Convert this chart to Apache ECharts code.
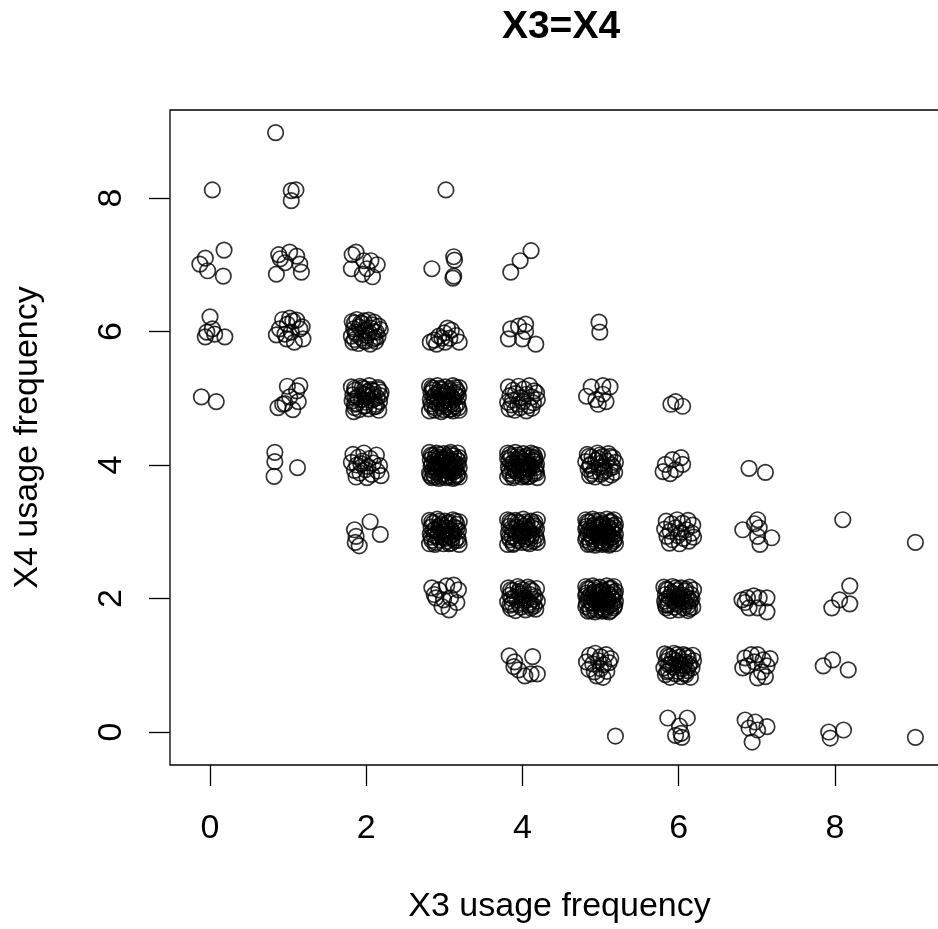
<!DOCTYPE html>
<html>
<head>
<meta charset="utf-8">
<title>X3=X4</title>
<script src="https://cdn.jsdelivr.net/npm/echarts@6/dist/echarts.min.js"></script>
<style>
  html, body { margin: 0; padding: 0; background: #fff; }
  #chart { width: 938px; height: 929px; }
</style>
</head>
<body>
<div id="chart"></div>
<script>
// Jittered (X3, X4) usage-frequency pairs, grouped by the integer X3 value.
const col0 = [
  [0.03, 8.12],
  [-0.13, 7.01], [-0.06, 7.10], [-0.03, 6.91], [0.18, 7.22], [0.17, 6.83],
  [0.00, 6.22], [-0.04, 5.99], [0.03, 6.04], [0.06, 5.96], [-0.06, 5.92], [0.19, 5.92],
  [-0.11, 5.02], [0.08, 4.95]
];
const col1 = [
  [0.84, 8.98],
  [1.04, 8.11], [1.10, 8.12], [1.04, 7.96],
  [0.88, 7.15], [0.90, 7.09], [1.02, 7.19], [1.11, 7.13], [1.15, 7.01], [0.85, 6.86], [1.17, 6.89], [0.96, 7.03],
  [0.93, 6.18], [1.02, 6.20], [1.11, 6.17], [1.18, 6.07], [0.96, 5.96], [1.04, 5.99], [1.15, 6.04],
  [0.98, 5.89], [1.08, 5.84], [1.19, 5.89], [0.89, 6.04], [0.99, 6.11], [0.85, 5.95], [1.06, 6.16],
  [0.93, 4.91], [1.02, 5.02], [1.11, 5.11], [1.15, 5.19], [0.99, 5.18], [0.87, 4.86], [1.06, 4.83],
  [0.96, 4.92], [1.13, 4.95],
  [0.83, 4.19], [0.83, 4.05], [0.82, 3.83], [1.12, 3.96]
];
const col2 = [
  [1.82, 7.15], [1.87, 7.19], [1.97, 7.06], [2.06, 7.06], [2.14, 7.00], [1.81, 6.94], [1.95, 6.86],
  [2.08, 6.82], [2.01, 6.94],
  [1.82, 6.15], [1.88, 6.18], [1.95, 6.12], [2.03, 6.17], [2.10, 6.14], [2.16, 6.08], [1.84, 6.04],
  [1.91, 6.07], [1.99, 6.02], [2.06, 6.05], [2.13, 5.99], [2.18, 6.03], [1.81, 5.93], [1.87, 5.96],
  [1.94, 5.90], [2.01, 5.94], [2.08, 5.88], [2.15, 5.92], [1.83, 5.84], [1.90, 5.82], [1.97, 5.86],
  [2.05, 5.81], [2.12, 5.85], [1.93, 6.13], [2.04, 5.98],
  [1.85, 6.13], [1.97, 6.16], [2.08, 6.10], [1.86, 5.99], [2.10, 6.00], [1.85, 5.88], [1.99, 5.85],
  [2.11, 5.90],
  [1.81, 5.17], [1.86, 5.12], [1.92, 5.18], [1.98, 5.14], [2.04, 5.19], [2.09, 5.11], [2.15, 5.16],
  [2.19, 5.09], [1.83, 5.05], [1.89, 5.02], [1.96, 5.07], [2.02, 5.03], [2.08, 5.06], [2.14, 5.01],
  [2.18, 5.04], [1.82, 4.96], [1.88, 4.92], [1.94, 4.98], [2.00, 4.94], [2.06, 4.97], [2.12, 4.91],
  [2.17, 4.95], [1.85, 4.86], [1.91, 4.83], [1.97, 4.88], [2.03, 4.84], [2.10, 4.87], [2.16, 4.82],
  [1.84, 4.80], [2.01, 5.10],
  [1.85, 5.15], [1.95, 5.16], [2.06, 5.13], [2.16, 5.13], [1.86, 5.00], [1.98, 5.05], [2.10, 4.99],
  [1.85, 4.91], [1.99, 4.89], [2.13, 4.88],
  [1.83, 4.16], [1.90, 4.12], [1.97, 4.18], [2.05, 4.10], [2.13, 4.15], [1.81, 4.04], [1.88, 4.00],
  [1.95, 4.06], [2.02, 3.98], [2.09, 4.03], [2.17, 3.99], [1.85, 3.92], [1.92, 3.88], [1.99, 3.93],
  [2.07, 3.86], [2.14, 3.91], [2.19, 3.84], [1.87, 3.82], [2.01, 3.81], [1.93, 4.02],
  [1.85, 3.03], [1.87, 2.93], [1.91, 2.79], [2.05, 3.15], [2.18, 2.96], [1.86, 2.84]
];
const col3 = [
  [3.02, 8.12],
  [2.84, 6.94], [3.12, 7.12], [3.13, 7.07], [3.12, 6.83], [3.11, 6.80],
  [2.87, 5.87], [2.93, 5.93], [3.00, 5.98], [3.04, 6.05], [3.09, 6.02], [3.15, 5.94], [2.90, 5.81],
  [3.01, 5.84], [3.19, 5.84], [2.82, 5.84], [2.97, 5.90], [3.07, 5.90],
  [2.81, 5.18], [2.86, 5.15], [2.91, 5.19], [2.96, 5.13], [3.01, 5.17], [3.06, 5.14], [3.11, 5.19],
  [3.16, 5.12], [3.19, 5.16], [2.83, 5.08], [2.88, 5.05], [2.93, 5.09], [2.98, 5.03], [3.03, 5.07],
  [3.08, 5.04], [3.13, 5.08], [3.18, 5.02], [2.82, 4.98], [2.87, 4.95], [2.92, 4.99], [2.97, 4.93],
  [3.02, 4.97], [3.07, 4.94], [3.12, 4.98], [3.17, 4.92], [2.84, 4.88], [2.89, 4.85], [2.94, 4.89],
  [2.99, 4.83], [3.04, 4.87], [3.09, 4.84], [3.14, 4.88], [3.19, 4.82], [2.81, 4.81], [2.96, 4.80],
  [3.11, 4.81], [2.85, 5.12], [3.05, 5.00], [3.15, 5.05],
  [2.84, 5.16], [2.94, 5.15], [3.04, 5.11], [3.14, 5.16], [2.86, 5.02], [2.96, 5.05], [3.10, 5.01],
  [3.17, 5.09], [2.83, 4.92], [2.91, 4.93], [3.00, 4.90], [3.09, 4.91], [3.18, 4.86], [2.88, 4.82],
  [3.06, 4.83],
  [2.81, 4.19], [2.85, 4.14], [2.90, 4.18], [2.94, 4.12], [2.99, 4.17], [3.03, 4.13], [3.08, 4.19],
  [3.12, 4.14], [3.17, 4.18], [3.19, 4.11], [2.82, 4.08], [2.87, 4.05], [2.91, 4.09], [2.96, 4.03],
  [3.00, 4.07], [3.05, 4.04], [3.09, 4.08], [3.14, 4.02], [3.18, 4.06], [2.83, 3.98], [2.88, 3.95],
  [2.92, 3.99], [2.97, 3.93], [3.01, 3.97], [3.06, 3.94], [3.10, 3.98], [3.15, 3.92], [3.19, 3.96],
  [2.81, 3.88], [2.86, 3.85], [2.90, 3.89], [2.95, 3.83], [2.99, 3.87], [3.04, 3.84], [3.08, 3.88],
  [3.13, 3.82], [3.17, 3.86], [2.84, 3.81], [2.93, 3.80], [3.02, 3.81], [3.11, 3.80], [3.19, 3.82],
  [2.89, 4.01], [3.07, 4.00], [2.98, 4.10], [3.12, 3.90],
  [2.83, 4.15], [2.88, 4.11], [2.93, 4.16], [2.97, 4.08], [3.02, 4.11], [3.07, 4.16], [3.11, 4.05],
  [3.16, 4.09], [2.84, 4.02], [2.89, 3.97], [2.94, 4.05], [3.03, 4.01], [3.13, 3.99], [3.17, 4.01],
  [2.85, 3.92], [2.91, 3.94], [2.96, 3.98], [3.05, 3.90], [3.09, 3.93], [3.14, 3.96], [2.82, 3.84],
  [2.88, 3.82], [2.97, 3.86], [3.06, 3.82], [3.16, 3.84],
  [2.81, 3.17], [2.86, 3.13], [2.91, 3.19], [2.96, 3.12], [3.01, 3.16], [3.06, 3.14], [3.11, 3.18],
  [3.16, 3.11], [3.19, 3.15], [2.83, 3.07], [2.88, 3.04], [2.93, 3.08], [2.98, 3.02], [3.03, 3.06],
  [3.08, 3.03], [3.13, 3.07], [3.18, 3.01], [2.82, 2.97], [2.87, 2.94], [2.92, 2.98], [2.97, 2.92],
  [3.02, 2.96], [3.07, 2.93], [3.12, 2.97], [3.17, 2.91], [2.84, 2.87], [2.89, 2.84], [2.94, 2.88],
  [2.99, 2.82], [3.04, 2.86], [3.09, 2.83], [3.14, 2.87], [3.19, 2.81], [2.81, 2.82], [2.96, 3.10],
  [3.10, 2.90], [3.00, 3.00],
  [2.84, 3.15], [2.94, 3.16], [3.04, 3.12], [3.14, 3.16], [2.86, 3.02], [2.95, 3.05], [3.10, 3.01],
  [3.16, 3.05], [2.83, 2.92], [2.91, 2.93], [3.01, 2.90], [3.09, 2.95], [3.18, 2.87], [2.88, 2.81],
  [3.06, 2.82],
  [2.84, 2.16], [2.93, 2.13], [3.03, 2.19], [3.12, 2.20], [3.18, 2.13], [2.89, 2.01], [2.99, 1.98],
  [3.08, 2.01], [3.16, 1.94], [2.97, 1.88], [3.06, 1.83], [2.87, 2.06]
];
const col4 = [
  [3.85, 6.89], [3.97, 7.06], [4.11, 7.21],
  [3.85, 6.04], [3.95, 6.08], [4.04, 6.11], [3.82, 5.89], [4.00, 5.89], [4.17, 5.81], [4.04, 6.00],
  [3.82, 5.17], [3.88, 5.12], [3.95, 5.18], [4.02, 5.14], [4.09, 5.19], [4.15, 5.11], [3.84, 5.04],
  [3.91, 5.07], [3.98, 5.01], [4.05, 5.06], [4.12, 5.02], [4.18, 5.08], [3.81, 4.94], [3.87, 4.97],
  [3.94, 4.91], [4.01, 4.95], [4.08, 4.89], [4.14, 4.93], [4.19, 4.98], [3.83, 4.84], [3.90, 4.82],
  [3.97, 4.86], [4.05, 4.81], [4.12, 4.85], [3.86, 4.90],
  [3.81, 4.18], [3.86, 4.13], [3.91, 4.19], [3.96, 4.12], [4.01, 4.17], [4.06, 4.14], [4.11, 4.18],
  [4.16, 4.11], [4.19, 4.15], [3.83, 4.07], [3.88, 4.04], [3.93, 4.08], [3.98, 4.02], [4.03, 4.06],
  [4.08, 4.03], [4.13, 4.07], [4.18, 4.01], [3.82, 3.97], [3.87, 3.94], [3.92, 3.98], [3.97, 3.92],
  [4.02, 3.96], [4.07, 3.93], [4.12, 3.97], [4.17, 3.91], [3.84, 3.87], [3.89, 3.84], [3.94, 3.88],
  [3.99, 3.82], [4.04, 3.86], [4.09, 3.83], [4.14, 3.87], [4.19, 3.81], [3.81, 3.82], [3.98, 4.10],
  [4.10, 3.99], [3.90, 3.95], [4.04, 3.89], [4.15, 4.05],
  [3.84, 4.16], [3.94, 4.15], [4.04, 4.11], [4.14, 4.16], [3.86, 4.02], [3.95, 4.05], [4.06, 4.01],
  [4.16, 4.08], [3.83, 3.92], [3.91, 3.91], [4.00, 3.90], [4.08, 3.95], [4.18, 3.88], [3.88, 3.81],
  [4.06, 3.82], [3.96, 3.98], [4.12, 4.12], [3.81, 4.10], [4.17, 3.96], [4.02, 3.84],
  [3.81, 3.18], [3.86, 3.14], [3.91, 3.17], [3.96, 3.13], [4.01, 3.19], [4.06, 3.12], [4.11, 3.16],
  [4.16, 3.14], [4.19, 3.18], [3.83, 3.08], [3.88, 3.03], [3.93, 3.07], [3.98, 3.04], [4.03, 3.09],
  [4.08, 3.02], [4.13, 3.06], [4.18, 3.04], [3.82, 2.98], [3.87, 2.93], [3.92, 2.97], [3.97, 2.94],
  [4.02, 2.99], [4.07, 2.92], [4.12, 2.96], [4.17, 2.94], [3.84, 2.88], [3.89, 2.83], [3.94, 2.87],
  [3.99, 2.84], [4.04, 2.89], [4.09, 2.82], [4.14, 2.86], [4.19, 2.84], [3.81, 2.81], [4.00, 3.01],
  [4.11, 2.91],
  [3.84, 3.16], [3.94, 3.15], [4.04, 3.15], [4.14, 3.11], [3.86, 3.05], [3.96, 3.01], [4.06, 3.05],
  [4.16, 3.08], [3.83, 2.92], [3.91, 2.90], [4.01, 2.93], [4.09, 2.97], [4.18, 2.89], [3.88, 2.81],
  [4.06, 2.84],
  [3.82, 2.16], [3.88, 2.12], [3.94, 2.18], [4.01, 2.13], [4.07, 2.17], [4.13, 2.11], [4.18, 2.15],
  [3.84, 2.05], [3.90, 2.02], [3.97, 2.07], [4.03, 2.01], [4.10, 2.06], [4.16, 2.03], [3.81, 1.95],
  [3.87, 1.92], [3.93, 1.97], [4.00, 1.93], [4.06, 1.98], [4.12, 1.91], [4.19, 1.96], [3.85, 1.85],
  [3.91, 1.82], [3.98, 1.87], [4.04, 1.83], [4.11, 1.86], [4.17, 1.84], [3.95, 2.10], [4.08, 1.90],
  [3.85, 2.13], [3.97, 2.15], [4.10, 2.14], [3.86, 2.00], [4.00, 2.04], [4.14, 1.99], [3.84, 1.90],
  [3.96, 1.91], [4.09, 1.94], [4.15, 1.89],
  [3.83, 1.14], [3.90, 1.05], [3.95, 0.93], [4.13, 1.13], [4.03, 0.84], [4.11, 0.87], [4.19, 0.87],
  [3.89, 0.98]
];
const col5 = [
  [4.98, 6.14], [4.99, 5.99],
  [4.88, 5.17], [4.82, 5.03], [4.94, 4.98], [5.03, 5.19], [5.12, 5.17], [5.03, 5.06], [4.97, 4.91],
  [5.07, 4.95],
  [4.83, 4.16], [4.89, 4.12], [4.96, 4.18], [5.03, 4.13], [5.10, 4.17], [5.16, 4.11], [4.81, 4.05],
  [4.87, 4.01], [4.94, 4.07], [5.01, 4.03], [5.08, 4.06], [5.14, 4.00], [5.19, 4.04], [4.84, 3.94],
  [4.91, 3.91], [4.98, 3.96], [5.05, 3.92], [5.12, 3.95], [5.18, 3.89], [4.86, 3.84], [4.93, 3.82],
  [5.00, 3.86], [5.07, 3.81], [5.14, 3.85], [4.97, 4.10],
  [4.85, 4.13], [4.99, 4.15], [5.12, 4.13], [4.86, 3.99], [5.03, 3.98], [5.16, 3.97], [4.89, 3.87],
  [5.04, 3.89],
  [4.81, 3.18], [4.85, 3.14], [4.90, 3.19], [4.94, 3.12], [4.99, 3.17], [5.03, 3.13], [5.08, 3.19],
  [5.12, 3.14], [5.17, 3.18], [5.19, 3.11], [4.82, 3.08], [4.87, 3.05], [4.91, 3.09], [4.96, 3.03],
  [5.00, 3.07], [5.05, 3.04], [5.09, 3.08], [5.14, 3.02], [5.18, 3.06], [4.83, 2.98], [4.88, 2.95],
  [4.92, 2.99], [4.97, 2.93], [5.01, 2.97], [5.06, 2.94], [5.10, 2.98], [5.15, 2.92], [5.19, 2.96],
  [4.81, 2.88], [4.86, 2.85], [4.90, 2.89], [4.95, 2.83], [4.99, 2.87], [5.04, 2.84], [5.08, 2.88],
  [5.13, 2.82], [5.17, 2.86], [4.84, 2.81], [4.93, 2.80], [5.02, 2.81], [5.11, 2.80], [5.19, 2.82],
  [4.89, 3.01], [5.07, 3.00], [4.98, 3.10], [5.12, 2.90],
  [4.83, 3.15], [4.93, 3.16], [5.02, 3.11], [5.13, 3.16], [4.85, 3.02], [4.94, 3.06], [5.04, 3.01],
  [5.16, 3.09], [4.82, 2.92], [4.90, 2.93], [5.00, 2.91], [5.09, 2.95], [5.18, 2.89], [4.87, 2.82],
  [5.06, 2.82], [4.96, 2.97], [5.13, 3.05], [4.81, 3.04], [5.16, 2.99], [5.02, 2.85],
  [4.81, 2.18], [4.85, 2.14], [4.90, 2.19], [4.94, 2.12], [4.99, 2.17], [5.03, 2.13], [5.08, 2.19],
  [5.12, 2.14], [5.17, 2.18], [5.19, 2.11], [4.82, 2.08], [4.87, 2.05], [4.91, 2.09], [4.96, 2.03],
  [5.00, 2.07], [5.05, 2.04], [5.09, 2.08], [5.14, 2.02], [5.18, 2.06], [4.83, 1.98], [4.88, 1.95],
  [4.92, 1.99], [4.97, 1.93], [5.01, 1.97], [5.06, 1.94], [5.10, 1.98], [5.15, 1.92], [5.19, 1.96],
  [4.81, 1.88], [4.86, 1.85], [4.90, 1.89], [4.95, 1.83], [4.99, 1.87], [5.04, 1.84], [5.08, 1.88],
  [5.13, 1.82], [5.17, 1.86], [4.84, 1.81], [4.93, 1.80], [5.02, 1.81], [5.11, 1.80], [4.89, 2.01],
  [5.07, 2.00], [4.98, 2.10], [5.12, 1.90],
  [4.83, 2.15], [4.93, 2.16], [5.02, 2.11], [5.13, 2.16], [4.85, 2.02], [4.94, 2.06], [5.04, 2.01],
  [5.16, 2.09], [4.82, 1.92], [4.90, 1.93], [5.00, 1.91], [5.09, 1.95], [5.18, 1.89], [4.87, 1.82],
  [5.06, 1.82], [4.96, 1.97], [5.13, 2.05], [4.81, 2.04], [5.16, 1.99], [5.02, 1.85],
  [4.86, 1.15], [4.93, 1.18], [5.00, 1.13], [5.07, 1.16], [5.13, 1.10], [4.82, 1.05], [4.90, 1.02],
  [4.97, 1.07], [5.04, 1.01], [5.11, 1.04], [4.85, 0.94], [4.92, 0.90], [5.00, 0.95], [5.08, 0.91],
  [4.95, 0.84], [5.03, 0.82],
  [5.19, -0.06]
];
const col6 = [
  [5.90, 4.91], [5.96, 4.95], [6.05, 4.88],
  [5.83, 4.01], [5.92, 4.08], [6.03, 4.11], [6.05, 4.01], [5.80, 3.90], [5.89, 3.87], [5.96, 3.93],
  [5.84, 3.16], [5.91, 3.12], [5.98, 3.18], [6.05, 3.13], [6.12, 3.17], [6.18, 3.10], [5.82, 3.04],
  [5.89, 3.01], [5.96, 3.06], [6.03, 2.99], [6.10, 3.03], [6.17, 2.98], [5.85, 2.93], [5.92, 2.88],
  [5.99, 2.94], [6.06, 2.90], [6.13, 2.86], [5.88, 2.83], [6.01, 2.82], [6.19, 2.92],
  [5.81, 2.17], [5.86, 2.13], [5.92, 2.18], [5.97, 2.12], [6.03, 2.16], [6.08, 2.11], [6.14, 2.17],
  [6.19, 2.13], [5.83, 2.06], [5.88, 2.02], [5.94, 2.07], [5.99, 2.01], [6.05, 2.05], [6.10, 2.02],
  [6.16, 2.06], [5.82, 1.96], [5.87, 1.92], [5.93, 1.97], [5.98, 1.91], [6.04, 1.95], [6.09, 1.92],
  [6.15, 1.96], [5.84, 1.86], [5.89, 1.82], [5.95, 1.87], [6.00, 1.83], [6.06, 1.86], [6.12, 1.82],
  [6.18, 1.87], [5.91, 2.09], [6.02, 1.99], [6.12, 1.89], [5.86, 1.90], [6.17, 2.00],
  [5.84, 2.14], [5.96, 2.16], [6.09, 2.14], [5.85, 2.00], [5.99, 2.04], [6.13, 1.99], [5.83, 1.90],
  [5.96, 1.93], [6.08, 1.95], [6.14, 1.85],
  [5.82, 1.17], [5.88, 1.13], [5.94, 1.18], [6.00, 1.12], [6.06, 1.16], [6.12, 1.11], [6.18, 1.15],
  [5.84, 1.06], [5.90, 1.02], [5.96, 1.07], [6.02, 1.01], [6.08, 1.05], [6.14, 1.02], [6.19, 1.07],
  [5.81, 0.96], [5.87, 0.92], [5.93, 0.97], [5.99, 0.91], [6.05, 0.95], [6.11, 0.92], [6.17, 0.96],
  [5.83, 0.86], [5.89, 0.82], [5.96, 0.87], [6.03, 0.83], [6.09, 0.86], [6.15, 0.82], [5.92, 1.10],
  [6.07, 0.99],
  [5.86, 1.15], [5.98, 1.16], [6.10, 1.14], [5.87, 1.01], [6.00, 1.04], [6.13, 0.99], [5.85, 0.90],
  [6.07, 0.88],
  [5.86, 0.21], [6.01, 0.09], [6.11, 0.21], [6.03, -0.02], [5.96, -0.05], [6.04, -0.08]
];
const col7 = [
  [6.90, 3.95], [7.11, 3.89],
  [6.97, 3.12], [7.01, 3.18], [7.03, 3.06], [6.82, 3.03], [7.01, 2.93], [7.19, 2.91], [7.04, 2.81],
  [6.81, 1.98], [6.88, 2.01], [6.96, 2.04], [7.03, 2.01], [7.13, 2.01], [6.90, 1.86], [7.01, 1.86],
  [7.13, 1.80], [6.85, 1.94],
  [6.85, 1.11], [6.93, 1.16], [7.01, 1.16], [7.08, 1.08], [7.13, 0.99], [6.88, 0.99], [6.97, 1.05],
  [7.06, 0.90], [7.11, 0.83], [7.01, 0.81], [6.82, 0.96], [7.17, 1.10],
  [6.85, 0.18], [6.90, 0.06], [6.98, 0.15], [7.13, 0.08], [6.94, -0.15], [7.01, 0.03]
];
const col8 = [
  [8.10, 3.18],
  [7.96, 1.86], [8.06, 1.98], [8.19, 2.19], [8.19, 1.92],
  [7.85, 0.99], [7.97, 1.08], [8.17, 0.93],
  [7.92, 0.00], [7.94, -0.09], [8.11, 0.03]
];
const col9 = [
  [9.03, 2.84], [9.03, -0.08]
];

const xTicks = [0, 2, 4, 6, 8];
const yTicks = [0, 2, 4, 6, 8];

const allPoints = [].concat(col0, col1, col2, col3, col4, col5, col6, col7, col8, col9);

const FONT = '"Liberation Sans", Arial, Helvetica, sans-serif';
const chart = echarts.init(document.getElementById('chart'), null, { renderer: 'canvas' });

const axisCommon = {
  type: 'value',
  splitLine: { show: false },
  axisLine: { show: false, onZero: false },
  axisTick: { show: true, inside: false, length: 21, lineStyle: { color: '#000', width: 1.3 } },
  nameLocation: 'middle',
  nameTextStyle: { color: '#000', fontSize: 34, fontFamily: FONT },
};

chart.setOption({
  animation: false,
  backgroundColor: '#fff',
  title: {
    text: 'X3=X4',
    left: 556,
    top: 3,
    textAlign: 'center',
    textStyle: { color: '#000', fontSize: 39, fontWeight: 'bold', fontFamily: FONT }
  },
  // plot box runs slightly past the right edge of the canvas
  grid: {
    left: 170, top: 110, width: 779, height: 655,
    outerBoundsMode: 'none',
    containLabel: false,
    show: true, borderColor: '#000', borderWidth: 1.3, backgroundColor: 'transparent'
  },
  xAxis: Object.assign({}, axisCommon, {
    min: -0.512, max: 9.46,
    name: 'X3 usage frequency',
    nameGap: 125,
    axisTick: Object.assign({}, axisCommon.axisTick, { customValues: xTicks }),
    axisLabel: { customValues: xTicks, color: '#000', fontSize: 34, fontFamily: FONT, margin: 47 }
  }),
  yAxis: Object.assign({}, axisCommon, {
    min: -0.494, max: 9.318,
    name: 'X4 usage frequency',
    nameGap: 125,
    axisTick: Object.assign({}, axisCommon.axisTick, { customValues: yTicks }),
    axisLabel: { customValues: yTicks, rotate: 90, color: '#000', fontSize: 34, fontFamily: FONT, margin: 41 }
  }),
  series: [{
    type: 'scatter',
    data: allPoints,
    symbol: 'circle',
    symbolSize: 15.5,
    clip: false,
    silent: true,
    itemStyle: { color: 'rgba(0,0,0,0)', borderColor: '#000', borderWidth: 1.7 },
    emphasis: { disabled: true }
  }]
});
</script>
</body>
</html>
